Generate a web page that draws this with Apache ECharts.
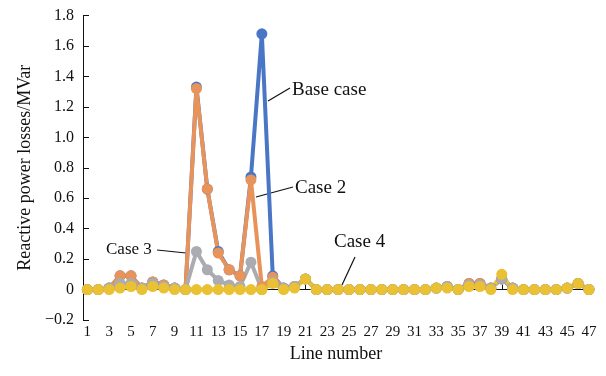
<!DOCTYPE html>
<html><head><meta charset="utf-8">
<script src="https://cdn.jsdelivr.net/npm/echarts@6/dist/echarts.min.js"></script>
<style>html,body{margin:0;padding:0;background:#fff}#c{width:606px;height:376px}</style>
</head><body><div id="c"></div>
<script>
const lines = [1,2,3,4,5,6,7,8,9,10,11,12,13,14,15,16,17,18,19,20,21,22,23,24,25,26,27,28,29,30,31,32,33,34,35,36,37,38,39,40,41,42,43,44,45,46,47];
const xTicks = [1,3,5,7,9,11,13,15,17,19,21,23,25,27,29,31,33,35,37,39,41,43,45,47];
const baseCase = [0,0,0.01,0.09,0.09,0.01,0.05,0.03,0.01,0,1.33,0.66,0.25,0.13,0.09,0.74,1.68,0.09,0.01,0.02,0.07,0,0,0,0,0,0,0,0,0,0,0,0.01,0.02,0,0.04,0.04,0.01,0.07,0.01,0,0,0,0,0.01,0.04,0];
const case2 = [0,0,0.01,0.09,0.09,0.01,0.05,0.03,0.01,0,1.32,0.66,0.24,0.13,0.09,0.72,0.02,0.08,0.01,0.02,0.07,0,0,0,0,0,0,0,0,0,0,0,0.01,0.02,0,0.04,0.04,0.01,0.07,0.01,0,0,0,0,0.01,0.04,0];
const case3 = [0,0,0.01,0.04,0.04,0.01,0.04,0.02,0.01,0,0.25,0.13,0.06,0.03,0.02,0.18,0,0.05,0.01,0.02,0.07,0,0,0,0,0,0,0,0,0,0,0,0.01,0.02,0,0.03,0.03,0.01,0.07,0.01,0,0,0,0,0.01,0.04,0];
const case4 = [0,0,0,0.01,0.02,0,0.02,0.01,0,0,0,0,0,0,0,0,0,0.04,0,0.01,0.07,0,0,0,0,0,0,0,0,0,0,0,0.01,0.01,0,0.02,0.02,0,0.1,0,0,0,0,0,0.01,0.04,0];
const yMin = -0.2, yMax = 1.8, yStep = 0.2;

const font = '"Liberation Serif", "DejaVu Serif", serif';
function mk(name, data, color) {
  return {
    name, type: 'line', data: lines.map((n, i) => [n, data[i]]),
    symbol: 'circle', symbolSize: 11,
    lineStyle: { color, width: 4 }, itemStyle: { color },
    emphasis: { disabled: true }, animation: false
  };
}
function label(text, x, y, size) {
  return { type: 'text', x, y, style: { text, font: size + 'px ' + font, fill: '#111', verticalAlign: 'middle', align: 'left' } };
}
function leader(x1, y1, x2, y2) {
  return { type: 'line', shape: { x1, y1, x2, y2 }, style: { stroke: '#111', lineWidth: 1.2 } };
}
const chart = echarts.init(document.getElementById('c'));
chart.setOption({
  animation: false,
  grid: { left: 83, right: 17, top: 15.5, bottom: 56 },
  xAxis: {
    type: 'value', min: 0.6, max: 47, name: 'Line number',
    nameLocation: 'middle', nameGap: 23,
    nameTextStyle: { fontFamily: font, fontSize: 18, color: '#111' },
    splitLine: { show: false },
    axisLine: { lineStyle: { color: '#111', width: 1 } },
    axisTick: { inside: true, length: 5, customValues: xTicks, lineStyle: { color: '#111' } },
    axisLabel: { customValues: xTicks, fontFamily: font, fontSize: 15, color: '#111', margin: 5 }
  },
  yAxis: {
    type: 'value', min: yMin, max: yMax, interval: yStep,
    name: 'Reactive power losses/MVar', nameLocation: 'middle', nameGap: 49,
    nameTextStyle: { fontFamily: font, fontSize: 18, color: '#111' },
    splitLine: { show: false },
    axisLine: { show: true, lineStyle: { color: '#111', width: 1 } },
    axisTick: { show: true, inside: true, length: 6, lineStyle: { color: '#111' } },
    axisLabel: {
      fontFamily: font, fontSize: 16, color: '#111', margin: 9,
      formatter: v => Math.abs(v) < 1e-9 ? '0' : (v < 0 ? '\u2212' + (-v).toFixed(1) : v.toFixed(1))
    }
  },
  series: [
    mk('Base case', baseCase, '#4a76c6'),
    mk('Case 2', case2, '#e8935a'),
    mk('Case 3', case3, '#aaacb1'),
    mk('Case 4', case4, '#e9c132')
  ],
  graphic: [
    leader(268, 101, 290, 88),
    label('Base case', 292, 90, 19),
    leader(256, 197, 293, 187),
    label('Case 2', 295, 188, 19),
    leader(157, 250, 186, 253),
    label('Case 3', 106, 250, 17),
    leader(355, 257, 342, 285),
    label('Case 4', 334, 242, 19)
  ]
});
</script></body></html>
